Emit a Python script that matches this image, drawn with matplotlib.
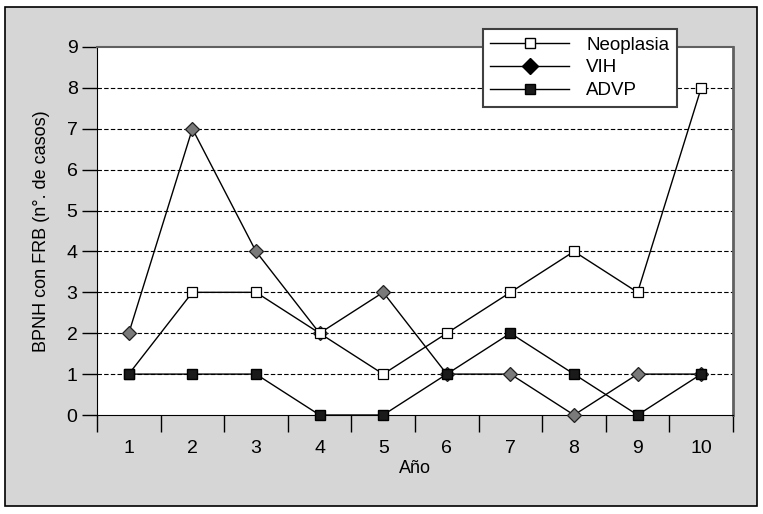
import matplotlib.pyplot as plt
from matplotlib.lines import Line2D
from matplotlib.patches import Rectangle

years = [1, 2, 3, 4, 5, 6, 7, 8, 9, 10]
neoplasia = [1, 3, 3, 2, 1, 2, 3, 4, 3, 8]
vih = [2, 7, 4, 2, 3, 1, 1, 0, 1, 1]
advp = [1, 1, 1, 0, 0, 1, 2, 1, 0, 1]

plt.rcParams["font.family"] = ["Liberation Sans Narrow", "Liberation Sans", "DejaVu Sans"]


def main() -> None:
    fig = plt.figure(figsize=(7.63, 5.14), dpi=100)
    fig.patch.set_facecolor("white")

    # grey chart frame
    fig.patches.append(Rectangle((0.0066, 0.0156), 0.9856, 0.9708,
                                 transform=fig.transFigure, facecolor="#d6d6d6",
                                 edgecolor="black", linewidth=1.2, zorder=-10))

    ax = fig.add_axes([0.1271, 0.1926, 0.8336, 0.716])
    ax.set_zorder(1)
    ax.set_facecolor("white")

    ax.plot(years, vih, color="black", linewidth=1, marker="D",
            markersize=7.5, markerfacecolor="#7a7a7a", markeredgecolor="#202020",
            markeredgewidth=0.9, zorder=3, clip_on=False)
    ax.plot(years, neoplasia, color="black", linewidth=1, marker="s",
            markersize=7, markerfacecolor="white", markeredgecolor="black",
            markeredgewidth=0.9, zorder=4, clip_on=False)
    ax.plot(years, advp, color="black", linewidth=1, marker="s",
            markersize=7, markerfacecolor="#1a1a1a", markeredgecolor="black",
            zorder=5, clip_on=False)

    ax.set_xlim(0.5, 10.5)
    ax.set_ylim(0, 9)
    ax.set_yticks(range(0, 10))
    ax.set_xticks([y - 0.5 for y in years] + [10.5])
    ax.set_xticklabels([])
    ax.set_xticks(years, minor=True)
    ax.set_xticklabels([str(y) for y in years], minor=True)
    ax.tick_params(axis="x", which="major", direction="out", length=12, width=1)
    ax.tick_params(axis="x", which="minor", length=0, pad=18, labelsize=14)
    ax.tick_params(axis="y", direction="out", length=11, width=1, pad=3,
                   labelsize=14)

    for yv in range(1, 9):
        ax.axhline(yv, color="black", linestyle=(0, (4, 2)), linewidth=0.8,
                   zorder=1)

    ax.spines["left"].set_color("black")
    ax.spines["bottom"].set_color("black")
    ax.spines["top"].set_color("#606060")
    ax.spines["right"].set_color("#606060")
    ax.spines["top"].set_linewidth(1.5)
    ax.spines["right"].set_linewidth(2)

    ax.set_xlabel("Año", fontsize=13, labelpad=2)
    ax.set_ylabel("BPNH con FRB (n°. de casos)", fontsize=13, labelpad=12)

    handles = [
        Line2D([], [], color="black", linewidth=1, marker="s", markersize=7,
               markerfacecolor="white", markeredgecolor="black"),
        Line2D([], [], color="black", linewidth=1, marker="D", markersize=8,
               markerfacecolor="black", markeredgecolor="black"),
        Line2D([], [], color="black", linewidth=1, marker="s", markersize=7,
               markerfacecolor="#1a1a1a", markeredgecolor="black"),
    ]
    leg = fig.legend(handles, ["Neoplasia", "VIH", "ADVP"], loc="upper left",
                     bbox_to_anchor=(0.633, 0.9436), borderaxespad=0,
                     fontsize=13.5, handlelength=4.2, handletextpad=0.9,
                     labelspacing=0.3, borderpad=0.4, fancybox=False,
                     framealpha=1, edgecolor="#404040")
    leg.get_frame().set_linewidth(1.5)
    leg.set_zorder(5)

    fig.savefig("out.png", dpi=100)
    plt.close(fig)


if __name__ == "__main__":
    main()
